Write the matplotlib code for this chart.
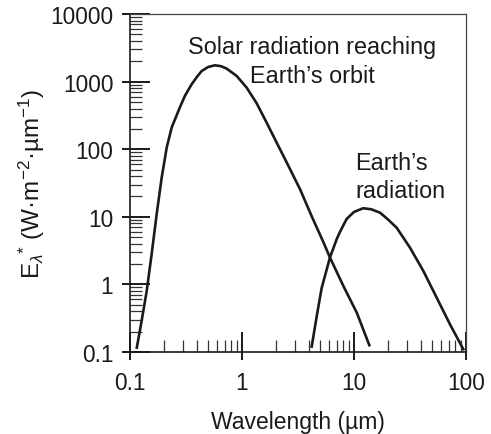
import matplotlib
matplotlib.use("Agg")
import matplotlib.pyplot as plt
from matplotlib.ticker import LogLocator, NullFormatter, FixedLocator

plt.rcParams['font.family'] = ['Liberation Sans', 'DejaVu Sans']
plt.rcParams['mathtext.fontset'] = 'custom'
plt.rcParams['mathtext.rm'] = 'Liberation Sans'
plt.rcParams['mathtext.it'] = 'Liberation Sans:italic'
plt.rcParams['mathtext.sf'] = 'Liberation Sans'

# --- data (wavelength in um, E in W m-2 um-1) ---
solar_wl = [0.115, 0.127, 0.141, 0.156, 0.173, 0.192, 0.213, 0.236, 0.279,
            0.31, 0.355, 0.40, 0.437, 0.50, 0.574, 0.65, 0.73, 0.897, 1.10,
            1.35, 1.66, 2.04, 2.51, 3.30, 4.2, 5.3, 6.1, 8.03, 10.6, 13.7]
solar_E = [0.116, 0.288, 0.80, 2.79, 10.9, 38.4, 107, 211, 417,
           620, 912, 1200, 1435, 1650, 1742, 1690, 1556, 1211, 815,
           480, 247, 125, 63.4, 25.5, 10.1, 4.3, 2.5, 0.95, 0.38, 0.126]

earth_wl = [4.19, 4.65, 5.14, 6.1, 7.0, 7.5, 8.6, 10.0, 12.1, 14.3, 17.1,
            20.0, 24.0, 31.6, 41.6, 54.7, 71.9, 94.6]
earth_E = [0.12, 0.34, 0.88, 2.5, 4.65, 6.0, 9.3, 11.8, 13.4, 12.9, 11.5,
           9.2, 6.92, 3.50, 1.58, 0.638, 0.257, 0.11]

x_ticks = [0.1, 1, 10, 100]
x_ticklabels = ['0.1', '1', '10', '100']
y_ticks = [0.1, 1, 10, 100, 1000, 10000]
y_ticklabels = ['0.1', '1', '10', '100', '1000', '10000']

W, H = 491, 435
fig = plt.figure(figsize=(W / 100, H / 100), dpi=100)
pos = [130 / W, 1 - 353 / H, 336 / W, 338 / H]
ax = fig.add_axes(pos)

ax.plot(solar_wl, solar_E, color='#1a1a1a', lw=1.9, solid_joinstyle='round')
ax.plot(earth_wl, earth_E, color='#1a1a1a', lw=1.9, solid_joinstyle='round')

ax.set_xscale('log')
ax.set_yscale('log')
ax.set_xlim(0.1, 100)
ax.set_ylim(0.1, 10000)

for a in (ax.xaxis, ax.yaxis):
    a.set_minor_locator(LogLocator(base=10, subs=range(2, 10)))
    a.set_minor_formatter(NullFormatter())
ax.xaxis.set_major_locator(FixedLocator(x_ticks))
ax.yaxis.set_major_locator(FixedLocator(y_ticks))
ax.set_xticklabels(x_ticklabels)
ax.set_yticklabels(y_ticklabels)

ax.tick_params(which='major', direction='in', length=14.5, width=1.4,
               color='#1a1a1a', labelsize=16.3, labelcolor='#1a1a1a')
ax.tick_params(axis='x', which='major', pad=14)
ax.tick_params(axis='y', which='major', pad=12)
ax.tick_params(which='minor', direction='in', length=8.5, width=0.9,
               color='#333333')

for s in ('left', 'bottom'):
    ax.spines[s].set_linewidth(1.2)
    ax.spines[s].set_color('#1a1a1a')
for s in ('top', 'right'):
    ax.spines[s].set_linewidth(0.9)
    ax.spines[s].set_color('#444444')

# outward part of the major ticks
ax2 = fig.add_axes(pos, sharex=ax, sharey=ax)
ax2.patch.set_visible(False)
for s in ax2.spines.values():
    s.set_visible(False)
ax2.tick_params(which='major', direction='out', length=5.5, width=1.4,
                color='#1a1a1a', labelbottom=False, labelleft=False)
ax2.tick_params(which='minor', length=0)

ax.set_xlabel('Wavelength (µm)', fontsize=16.5, color='#1a1a1a', labelpad=11)
ax.set_ylabel(r'E$_{\lambda}$$^{*}$ (W·m$^{-2}$·µm$^{-1}$)', fontsize=17.5,
              color='#1a1a1a', labelpad=2)

fig.text(312 / W, 1 - 62 / H, "Solar radiation reaching\nEarth’s orbit",
         fontsize=16.8, ha='center', va='center', color='#1a1a1a',
         linespacing=1.3)
fig.text(355 / W, 1 - 177.5 / H, "Earth’s\nradiation",
         fontsize=16.8, ha='left', va='center', color='#1a1a1a',
         linespacing=1.25)

fig.savefig('out.png', dpi=100)
